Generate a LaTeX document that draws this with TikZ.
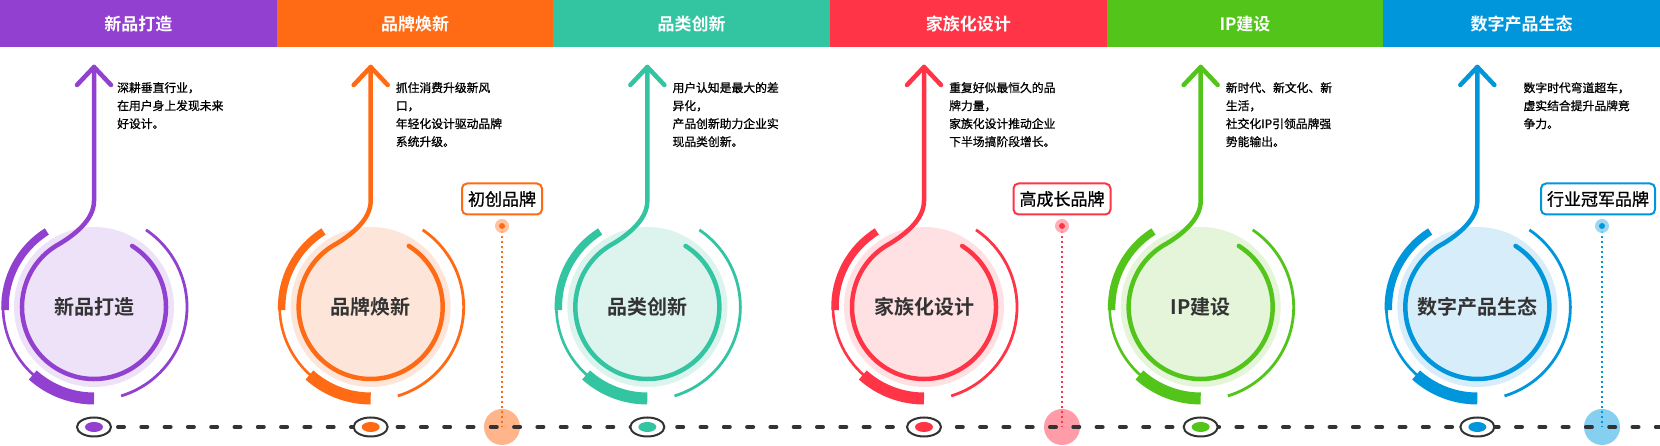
\documentclass[tikz,border=0pt]{standalone}
\usepackage{fontspec}
\usetikzlibrary{calc,shapes.geometric}
\newfontfamily\cjk[FakeBold=0.9]{Noto Sans CJK SC}
\newfontfamily\cjkb{Noto Sans CJK SC Bold}
\definecolor{cA}{HTML}{9140CF}\definecolor{lA}{HTML}{EDE2F8}
\definecolor{cB}{HTML}{FF6B14}\definecolor{lB}{HTML}{FDE6D9}
\definecolor{cC}{HTML}{33C4A2}\definecolor{lC}{HTML}{DDF4EE}
\definecolor{cD}{HTML}{FF3446}\definecolor{lD}{HTML}{FFE1E4}
\definecolor{cE}{HTML}{52C41A}\definecolor{lE}{HTML}{E4F5DA}
\definecolor{cF}{HTML}{0096DC}\definecolor{lF}{HTML}{D7EEFA}
\definecolor{mB}{HTML}{FFB48A}\definecolor{mD}{HTML}{FF9CA7}\definecolor{mF}{HTML}{85CFF1}
\definecolor{dk}{HTML}{333333}
\tikzset{
  hdr/.style={font=\cjkb\fontsize{17}{20}\selectfont,text=white},
  desc/.style={font=\cjk\fontsize{11.8}{18}\selectfont,text=black,align=left,anchor=north west,inner sep=0pt},
  ctitle/.style={font=\cjkb\fontsize{20}{24}\selectfont,text=dk},
  mbox/.style={draw,line width=2pt,rounded corners=5pt,fill=white,font=\cjk\fontsize{17}{20}\selectfont,text=black,inner xsep=6pt,minimum height=31pt},
}
\begin{document}
\begin{tikzpicture}[x=1pt,y=1pt]
\useasboundingbox (0,0) rectangle (1660,446);
\fill[white] (0,0) rectangle (1660,446);
% milestone big circles (behind dashes)
\foreach \mx/\mc in {502/mB,1062/mD,1602/mF}{
  \fill[\mc] (\mx,19) circle (18);
}
% timeline dashes
\draw[dk,line width=4pt,line cap=round,dash pattern=on 6pt off 17.3pt] (118,19) -- (1660,19);
\foreach \i/\c/\l/\name/\toff/\txt in {
 0/cA/lA/新品打造/23/{深耕垂直行业，\\在用户身上发现未来\\好设计。},
 1/cB/lB/品牌焕新/25/{抓住消费升级新风\\口，\\年轻化设计驱动品牌\\系统升级。},
 2/cC/lC/品类创新/25/{用户认知是最大的差\\异化，\\产品创新助力企业实\\现品类创新。},
 3/cD/lD/家族化设计/25/{重复好似最恒久的品\\牌力量，\\家族化设计推动企业\\下半场搞阶段增长。},
 4/cE/lE/IP建设/25/{新时代、新文化、新\\生活，\\社交化IP引领品牌强\\势能输出。},
 5/cF/lF/数字产品生态/46/{数字时代弯道超车，\\虚实结合提升品牌竞\\争力。}}{
  \pgfmathsetmacro{\sx}{94+276.667*\i}
  \pgfmathsetmacro{\hx}{276.667*\i}
  % header
  \fill[\c] (\hx,399) rectangle ++(276.8,47);
  \node[hdr] (h\i) at (\hx+138.33,422) {\name};
  % circle
  \coordinate (c\i) at (\sx,139);
  \fill[\l] (c\i) circle (80);
  \node[ctitle] (t\i) at (c\i) {\name};
  \draw[\c,line width=4.5pt,line cap=round] (\sx,379) -- (\sx,245)
     .. controls (\sx,226) and (\sx-20,211) .. ($(c\i)+(118:72)$)
     arc[start angle=118,end angle=418,radius=72];
  \draw[\c,line width=4.5pt,line cap=round,line join=round] (\sx-17,361) -- (\sx,379) -- (\sx+17,361);
  % outer arcs
  \draw[\c,line width=7.5pt] ($(c\i)+(122:89)$) arc[start angle=122,end angle=182,radius=89];
  \draw[\c,line width=2.6pt] ($(c\i)+(180:91)$) arc[start angle=180,end angle=232,radius=91];
  \draw[\c,line width=12pt] ($(c\i)+(228:91.5)$) arc[start angle=228,end angle=270,radius=91.5];
  \draw[\c,line width=2.8pt] ($(c\i)+(-73:93)$) arc[start angle=-73,end angle=56,radius=93];
  % description
  \node[desc] (d\i) at (\sx+\toff,364) {\txt};
  % timeline marker
  \node[draw=dk,fill=white,line width=2pt,ellipse,minimum width=34pt,minimum height=19pt,inner sep=0pt] (e\i) at (\sx,19) {};
  \fill[\c] (e\i) ellipse (9 and 5);
}
% milestones
\foreach \mx/\c/\mc/\lbl/\k in {502/cB/mB/初创品牌/1,1062/cD/mD/高成长品牌/2,1598/cF/mF/行业冠军品牌/3}{
  \node[mbox,draw=\c] (mb\k) at (\mx,247) {\lbl};
}
\foreach \mx/\c/\mc/\k in {502/cB/mB/1,1062/cD/mD/2,1602/cF/mF/3}{
  \coordinate (md\k) at (\mx,220);
  \coordinate (mt\k) at (\mx,19);
  \draw[\c,line width=1.6pt,dash pattern=on 2.5pt off 2.5pt] (md\k) -- (mt\k);
  \fill[\mc,opacity=0.8] (md\k) circle (7);
  \fill[\c] (md\k) circle (3);
}
\end{tikzpicture}
\end{document}
